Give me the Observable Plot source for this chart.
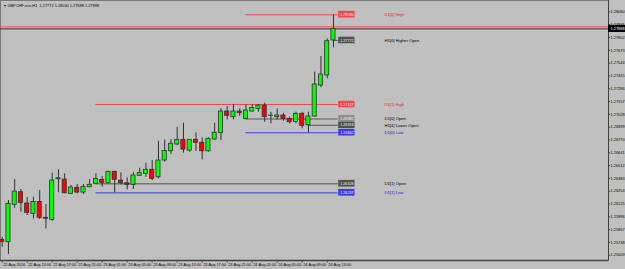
<!DOCTYPE html>
<html><head><meta charset="utf-8">
<script src="https://cdn.jsdelivr.net/npm/d3@7"></script>
<script src="https://cdn.jsdelivr.net/npm/@observablehq/plot@0.6"></script>
<style>
html,body{margin:0;padding:0;background:#c0c0c0;}
#chart svg{display:block;background:#c0c0c0;font-family:"Liberation Sans",Arial,sans-serif;}
</style></head><body><div id="chart"></div>
<script>
const symbol = "GBPCHF-ecn,H1";
const opens = [1.25764,1.25740,1.26117,1.26243,1.26130,1.26026,1.26145,1.25986,1.25965,1.26374,
1.26371,1.26227,1.26288,1.26240,1.26294,1.26328,1.26368,1.26338,1.26449,1.26361,
1.26334,1.26318,1.26409,1.26429,1.26469,1.26394,1.26563,1.26656,1.26724,1.26771,
1.26663,1.26771,1.26741,1.26656,1.26774,1.26838,1.27056,1.26999,1.27056,1.26982,
1.27056,1.27083,1.27116,1.27013,1.26999,1.27016,1.26982,1.26952,1.27033,1.26918,
1.27006,1.27318,1.27419,1.27772];
const highs = [1.25790,1.26160,1.26371,1.26271,1.26190,1.26195,1.26261,1.26120,1.26435,1.26469,
1.26429,1.26311,1.26321,1.26321,1.26371,1.26429,1.26402,1.26455,1.26455,1.26439,
1.26388,1.26439,1.26485,1.26535,1.26563,1.26757,1.26769,1.26771,1.26898,1.26938,
1.26774,1.26842,1.26791,1.26791,1.26938,1.27083,1.27106,1.27127,1.27083,1.27122,
1.27124,1.27126,1.27140,1.27049,1.27083,1.27039,1.26999,1.27049,1.27049,1.27049,
1.27452,1.27610,1.27788,1.28030];
const lows = [1.25690,1.25616,1.26082,1.26042,1.26009,1.25974,1.25969,1.25875,1.25951,1.26240,
1.26227,1.26220,1.26227,1.26220,1.26288,1.26321,1.26294,1.26328,1.26237,1.26318,
1.26268,1.26271,1.26402,1.26394,1.26361,1.26378,1.26546,1.26623,1.26714,1.26636,
1.26646,1.26653,1.26570,1.26646,1.26764,1.26764,1.26972,1.26972,1.27006,1.26972,
1.27049,1.27049,1.26948,1.26932,1.26972,1.26958,1.26932,1.26932,1.26882,1.26842,
1.26999,1.27295,1.27385,1.27698];
const closes = [1.25744,1.26127,1.26250,1.26135,1.26036,1.26145,1.25986,1.25976,1.26361,1.26384,
1.26233,1.26291,1.26240,1.26298,1.26318,1.26378,1.26338,1.26449,1.26368,1.26334,
1.26318,1.26412,1.26435,1.26469,1.26378,1.26563,1.26658,1.26731,1.26771,1.26673,
1.26771,1.26741,1.26656,1.26781,1.26842,1.27056,1.27013,1.27056,1.27039,1.27066,
1.27093,1.27116,1.26999,1.27016,1.27016,1.26982,1.26948,1.27033,1.26912,1.27006,
1.27328,1.27429,1.27764,1.27888];
const askPrice = 1.27909;
const timeTickBars = [0,4,8,12,16,20,24,28,32,36,40,44,48,52];
const timeTickLabels = ["22 Aug 2016","22 Aug 13:00","22 Aug 17:00","22 Aug 21:00","23 Aug 01:00","23 Aug 05:00","23 Aug 09:00","23 Aug 13:00","23 Aug 17:00","23 Aug 21:00","24 Aug 01:00","24 Aug 05:00","24 Aug 09:00","24 Aug 13:00"];
const priceTicks = [1.28060,1.27931,1.27802,1.27673,1.27544,1.27415,1.27286,1.27157,1.27028,1.26899,1.26770,1.26641,1.26512,1.26383,1.26254,1.26125,1.25996,1.25867,1.25738,1.25609];
const day1Start = 15, day0Start = 39;
const levelNames = ["D1[0] High","H1[0] Higher Open","D1[1] High","D1[0] Open","H1[4] Lower Open","D1[0] Low","D1[1] Open","D1[1] Low"];
const levelKinds = ["high","open","high","dopen","open","low","open","low"];

const candles = opens.map((o,i)=>({i, open:o, high:highs[i], low:lows[i], close:closes[i]}));
const last = candles.length - 1;
const d0 = candles.slice(day0Start), d1 = candles.slice(day1Start, day0Start);
const levelPrices = [d3.max(d0,d=>d.high), candles[last].open, d3.max(d1,d=>d.high), candles[day0Start].open,
  candles[last-4].open, d3.min(d0,d=>d.low), candles[day1Start].open, d3.min(d1,d=>d.low)];
const levelStarts = [day0Start,last,day1Start,day0Start,last-4,day0Start,day1Start,day1Start];
const kindColor = {high:"#f04848", open:"#505050", dopen:"#8c8c8c", low:"#3c3ce6"};
const textColor = {high:"#ee2020", open:"#000", dopen:"#000", low:"#2020e0"};
const levels = levelNames.map((n,k)=>({name:n, price:levelPrices[k], start:levelStarts[k], kind:levelKinds[k]}));
const fmt = v => v.toFixed(5);
const xMax = 97.008, half = 0.00036;
const title = `${symbol}  ${fmt(candles[last].open)} ${fmt(candles[last].high)} ${fmt(candles[last].low)} ${fmt(candles[last].close)}`;

const chart = Plot.plot({
  width: 625, height: 269,
  marginTop: 0, marginLeft: 0, marginRight: 17, marginBottom: 9,
  x: {type:"linear", domain:[-0.272, xMax], axis:null},
  y: {type:"linear", domain:[1.25556, 1.28174], axis:null},
  style: {background:"#c0c0c0", fontSize:"3.9px"},
  marks: [
    Plot.frame({stroke:"#7a7a7a"}),
    Plot.ruleY([askPrice], {stroke:"#f05050", strokeWidth:1}),
    Plot.ruleY([candles[last].close], {stroke:"#333", strokeWidth:1}),
    Plot.ruleY(levels, {y:"price", x1:"start", x2: d=>last+0.8, stroke:d=>kindColor[d.kind], strokeWidth:d=>d.kind==="dopen"?2:1}),
    Plot.ruleX(candles, {x:"i", y1:"low", y2:"high", stroke:"#303030", strokeWidth:1}),
    Plot.rect(candles, {x1:d=>d.i-0.33, x2:d=>d.i+0.33, y1:"open", y2:d=>Math.abs(d.close-d.open)<0.00003?d.open+0.00002:d.close,
      fill:d=>d.close>=d.open?"#00ff00":"#ff0000", stroke:"#303030", strokeWidth:0.8}),
    Plot.rect(levels, {x1:d=>last+0.8, x2:d=>last+3.5, y1:d=>d.price-half, y2:d=>d.price+half, fill:d=>kindColor[d.kind], stroke:"#c0c0c0", strokeWidth:0.5}),
    Plot.text(levels, {x:d=>last+2.15, y:"price", text:d=>fmt(d.price), fill:"#f4f4f4", fontSize:3.7}),
    Plot.text(levels, {x:d=>last+8.17, y:"price", text:"name", fill:d=>textColor[d.kind], textAnchor:"start", fontSize:4.2}),
    Plot.text([title], {frameAnchor:"top-left", dx:7, dy:4, fill:"#000", fontSize:3.9}),
    Plot.text(["▾"], {frameAnchor:"top-left", dx:3, dy:4, fill:"#000", fontSize:3.9}),
    // right price axis
    Plot.ruleX([xMax], {stroke:"#404040", strokeWidth:1}),
    Plot.ruleY(priceTicks, {y:d=>d, x1:xMax, x2:xMax+0.35, stroke:"#404040"}),
    Plot.text(priceTicks, {y:d=>d, frameAnchor:"right", dx:2, textAnchor:"start", text:d=>fmt(d), fill:"#000", fontSize:3.9}),
    Plot.rect([candles[last].close], {x1:xMax, x2:xMax+2.75, y1:d=>d-half, y2:d=>d+half, fill:"#000"}),
    Plot.text([candles[last].close], {x:xMax, y:d=>d, dx:2, textAnchor:"start", text:d=>fmt(d), fill:"#fff", fontSize:3.9}),
    // bottom time axis
    Plot.ruleY([1.25556], {stroke:"#404040", strokeWidth:1.5}),
    Plot.ruleX(timeTickBars, {x:d=>d, y1:1.25556, y2:1.25556-0.00025, stroke:"#404040"}),
    Plot.text(timeTickBars, {x:d=>d, frameAnchor:"bottom", dy:5, dx:1, textAnchor:"start", text:(d,k)=>timeTickLabels[k], fill:"#000", fontSize:3.9})
  ]
});
document.getElementById("chart").appendChild(chart);
</script></body></html>
